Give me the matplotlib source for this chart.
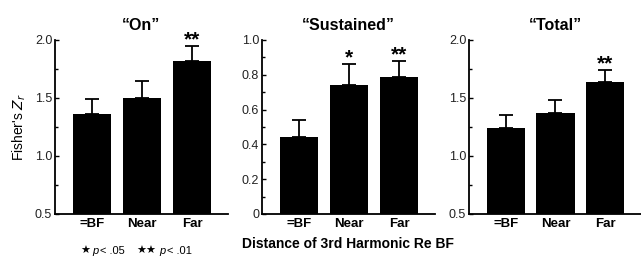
import matplotlib
matplotlib.use("Agg")
import matplotlib.pyplot as plt
from matplotlib.ticker import MultipleLocator

plt.rcParams['font.family'] = ['Liberation Sans', 'DejaVu Sans']

categories = ["=BF", "Near", "Far"]
titles = ["\u201cOn\u201d", "\u201cSustained\u201d", "\u201cTotal\u201d"]
on_vals = [1.36, 1.50, 1.82]
on_err = [0.13, 0.15, 0.13]
sus_vals = [0.44, 0.74, 0.79]
sus_err = [0.10, 0.12, 0.09]
tot_vals = [1.24, 1.37, 1.64]
tot_err = [0.11, 0.11, 0.10]
on_sig = ["", "", "**"]
sus_sig = ["", "*", "**"]
tot_sig = ["", "", "**"]

panels = [
    (on_vals, on_err, on_sig, (0.5, 2.0), [0.5, 1.0, 1.5, 2.0], ["0.5", "1.0", "1.5", "2.0"], 0.25),
    (sus_vals, sus_err, sus_sig, (0.0, 1.0), [0, 0.2, 0.4, 0.6, 0.8, 1.0], ["0", "0.2", "0.4", "0.6", "0.8", "1.0"], 0.1),
    (tot_vals, tot_err, tot_sig, (0.5, 2.0), [0.5, 1.0, 1.5, 2.0], ["0.5", "1.0", "1.5", "2.0"], 0.25),
]

W, H = 641, 264
fig = plt.figure(figsize=(W / 100, H / 100), dpi=100)
lefts = [55, 262, 469]
widths = [173, 173, 172]
top_px, bot_px = 40, 214

axes = []
for i, (vals, errs, sig, ylim, yt, ytl, minor) in enumerate(panels):
    ax = fig.add_axes([lefts[i] / W, 1 - bot_px / H, widths[i] / W, (bot_px - top_px) / H])
    axes.append(ax)
    x = range(len(categories))
    ax.bar(x, vals, width=0.77, color="black", zorder=2)
    ax.errorbar(x, vals, yerr=[[0] * 3, errs], fmt="none", ecolor="black",
                elinewidth=1.3, capsize=5, capthick=1.3, zorder=1)
    for xi, v, e, s in zip(x, vals, errs, sig):
        if s:
            ax.annotate(s, (xi, v + e), xytext=(0, -2.5), textcoords="offset points",
                        ha="center", va="bottom", fontsize=15, fontweight="bold")
    ax.set_xlim(-0.74, 2.72)
    ax.set_ylim(*ylim)
    ax.set_yticks(yt)
    ax.set_yticklabels(ytl)
    ax.yaxis.set_minor_locator(MultipleLocator(minor))
    ax.set_xticks(list(x))
    ax.set_xticklabels(categories, fontweight="bold", fontsize=9.5)
    ax.tick_params(axis="x", length=0, pad=3)
    ax.tick_params(axis="y", which="major", direction="in", length=3, width=1, labelsize=9,
                   labelcolor="#222222", pad=2)
    ax.tick_params(axis="y", which="minor", direction="in", length=2, width=1)
    for sp in ["top", "right"]:
        ax.spines[sp].set_visible(False)
    for sp in ["left", "bottom"]:
        ax.spines[sp].set_linewidth(1.3)
    ax.set_title(titles[i], fontsize=11.5, fontweight="bold", pad=7)
    ax.set_facecolor("none")

axes[0].set_ylabel("Fisher's $Z_r$", fontsize=10, labelpad=5)
axes[1].set_xlabel("Distance of 3rd Harmonic Re BF", fontsize=10, fontweight="bold", labelpad=5)

# significance legend
ly = 1 - 251 / H
fig.text(85 / W, ly, "\u2605", fontsize=8, ha="center", va="center", family=["DejaVu Sans"])
fig.text(92 / W, ly, "p", fontsize=8, style="italic", ha="left", va="center")
fig.text(100 / W, ly, "< .05", fontsize=8, ha="left", va="center")
fig.text(146 / W, ly, "\u2605\u2605", fontsize=8, ha="center", va="center", family=["DejaVu Sans"])
fig.text(159 / W, ly, "p", fontsize=8, style="italic", ha="left", va="center")
fig.text(167 / W, ly, "< .01", fontsize=8, ha="left", va="center")

fig.savefig("out.png", dpi=100)
